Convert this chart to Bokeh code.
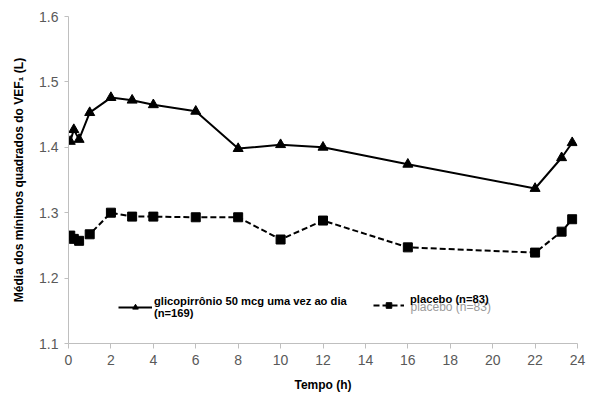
from bokeh.plotting import figure
from bokeh.models import Legend, LegendItem, Label, FixedTicker, Range1d
from bokeh.embed import file_html
from bokeh.resources import INLINE

# Data
hours = [0.083, 0.25, 0.5, 1, 2, 3, 4, 6, 8, 10, 12, 16, 22, 23.25, 23.75]
glyco = [1.409, 1.427, 1.412, 1.453, 1.476, 1.472, 1.465, 1.455, 1.398, 1.404, 1.400, 1.374, 1.337, 1.384, 1.407]
placebo = [1.265, 1.260, 1.257, 1.267, 1.300, 1.294, 1.294, 1.293, 1.293, 1.259, 1.288, 1.247, 1.239, 1.271, 1.290]
x_ticks = [0, 2, 4, 6, 8, 10, 12, 14, 16, 18, 20, 22, 24]
y_ticks = [1.1, 1.2, 1.3, 1.4, 1.5, 1.6]
glyco_label = "glicopirrônio 50 mcg uma vez ao dia\n(n=169)"
placebo_label = "placebo (n=83)"

FONT = "Liberation Sans"

p = figure(frame_width=509, frame_height=327, min_border_left=68, min_border_top=16,
           min_border_bottom=44, min_border_right=20,
           x_range=Range1d(0, 24), y_range=Range1d(1.1, 1.6),
           output_backend="svg", toolbar_location=None)
p.outline_line_color = None
p.xgrid.visible = False
p.ygrid.visible = False

for ax in (p.xaxis[0], p.yaxis[0]):
    ax.axis_line_color = "#bfbfbf"
    ax.major_tick_line_color = "#bfbfbf"
    ax.minor_tick_line_color = None
    ax.major_label_text_color = "#595959"
    ax.major_label_text_font = FONT
    ax.major_label_text_font_size = "14px"
    ax.axis_label_text_font = FONT
    ax.axis_label_text_font_style = "bold"
    ax.axis_label_text_color = "black"
    ax.axis_label_text_font_size = "12px"
    ax.major_tick_in = 0

p.xaxis[0].ticker = FixedTicker(ticks=x_ticks)
p.yaxis[0].ticker = FixedTicker(ticks=y_ticks)
p.xaxis[0].major_tick_out = 5
p.yaxis[0].major_tick_out = 4
p.xaxis[0].axis_label = "Tempo (h)"
p.yaxis[0].axis_label = "Média dos mínimos quadrados do VEF₁ (L)"
p.xaxis[0].major_label_standoff = 6
p.yaxis[0].major_label_standoff = 6
p.xaxis[0].axis_label_standoff = 10
p.yaxis[0].axis_label_standoff = 10

gl = p.line(hours, glyco, line_color="black", line_width=2)
gm = p.scatter(hours, glyco, marker="triangle", size=10, color="black")
pl = p.line(hours, placebo, line_color="black", line_width=2, line_dash="6 3")
pm = p.scatter(hours, placebo, marker="square", size=9, color="black")

# ghost text behind placebo label
p.add_layout(Label(x=342, y=37, x_units="screen", y_units="screen", text=placebo_label,
                   text_font=FONT, text_font_size="12px", text_color="#9a9a9a",
                   text_baseline="middle"))

common = dict(padding=0, margin=0, spacing=0, glyph_height=14, label_height=14,
              label_text_font=FONT, label_text_font_style="bold", label_text_font_size="11.2px",
              label_text_color="black", label_text_line_height=1.25,
              border_line_alpha=0, background_fill_alpha=0)
leg1 = Legend(items=[LegendItem(label=glyco_label, renderers=[gl, gm])],
              location=(50, 24), glyph_width=34, label_standoff=2, **common)
leg2 = Legend(items=[LegendItem(label=placebo_label + "\n ", renderers=[pl, pm])],
              location=(305, 26), glyph_width=31, label_standoff=6, **common)
p.add_layout(leg1)
p.add_layout(leg2)

open("out.html", "w").write(file_html(p, INLINE))
